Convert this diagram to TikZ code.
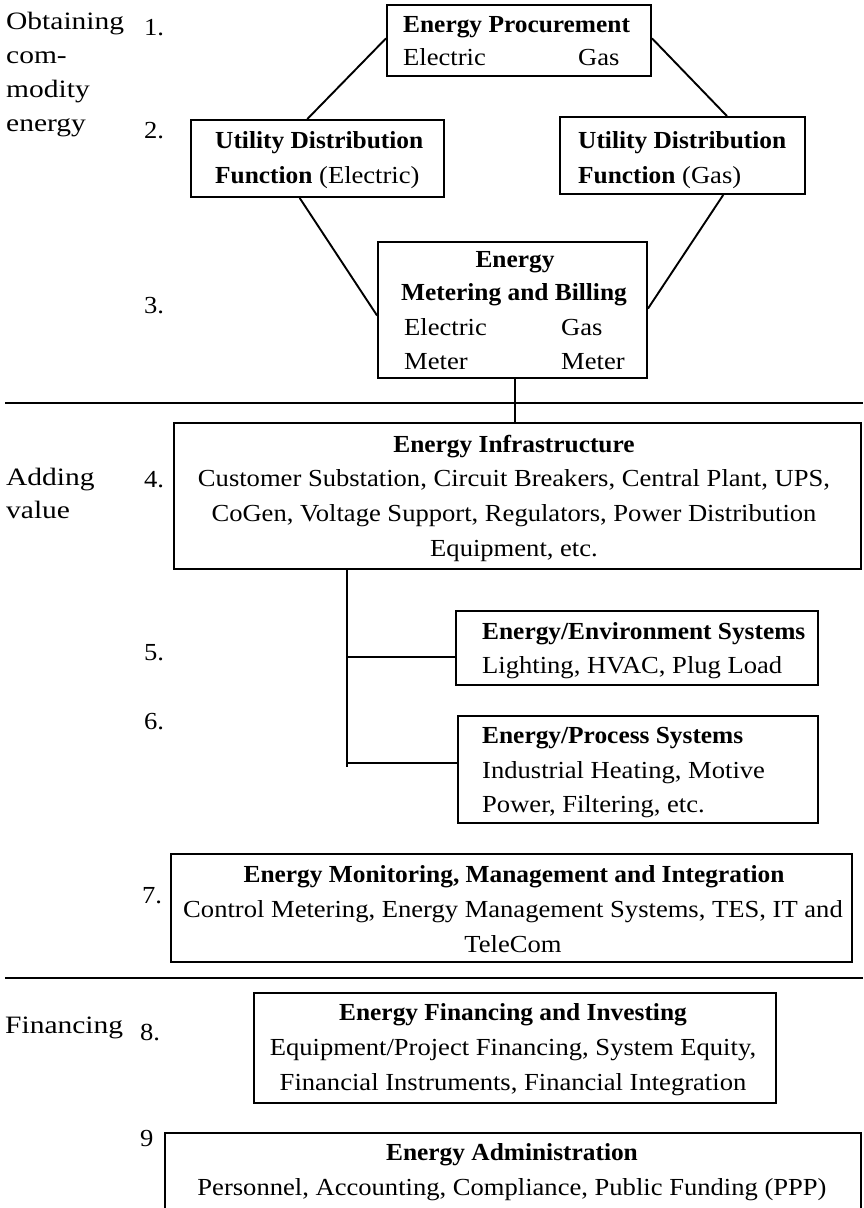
\documentclass[tikz,border=0pt]{standalone}
\usepackage{fontspec}
\setmainfont{Liberation Serif}
\usepackage{graphicx}
\usetikzlibrary{calc}
\newcommand{\sx}[1]{\scalebox{1.085}[1]{#1}}
\newcommand{\bx}[1]{\scalebox{1.036}[1]{\bfseries #1}}
\newcommand{\lx}[1]{\scalebox{1.18}[1]{#1}}
\tikzset{
  boxnode/.style={draw, line width=1.9pt, inner sep=0pt},
  txt/.style={inner sep=0pt, font=\fontsize{24.5}{28}\selectfont},
  ltxt/.style={inner sep=0pt, font=\fontsize{25}{28}\selectfont},
  lw/.style={anchor=base west},
  lc/.style={anchor=base},
  conn/.style={line width=1.9pt},
  sepline/.style={line width=2.3pt}
}
\begin{document}
\begin{tikzpicture}[x=1pt,y=-1pt]
\useasboundingbox (0,0) rectangle (863,1208);
\clip (0,0) rectangle (863,1208);
\fill[white] (0,0) rectangle (863,1208);

% boxes
\node[boxnode, minimum width=264pt, minimum height=71pt] (b1) at (519,40.5) {};
\node[boxnode, minimum width=253pt, minimum height=77pt] (b2L) at (317.5,158.5) {};
\node[boxnode, minimum width=245pt, minimum height=77pt] (b2R) at (682.5,155.5) {};
\node[boxnode, minimum width=269pt, minimum height=136pt] (b3) at (512.5,310) {};
\node[boxnode, minimum width=687pt, minimum height=146pt] (b4) at (517.5,496) {};
\node[boxnode, minimum width=362pt, minimum height=74pt] (b5) at (637,648) {};
\node[boxnode, minimum width=360pt, minimum height=107pt] (b6) at (638,769.5) {};
\node[boxnode, minimum width=681pt, minimum height=108pt] (b7) at (511.5,908) {};
\node[boxnode, minimum width=522pt, minimum height=110pt] (b8) at (515,1048) {};
\node[boxnode, minimum width=696pt, minimum height=110pt] (b9) at (513,1188) {};

% separators
\coordinate (s1a) at (5,403);
\coordinate (s1b) at (863,403);
\coordinate (s2a) at (5,978);
\coordinate (s2b) at (863,978);
\draw[sepline] (s1a) -- (s1b);
\draw[sepline] (s2a) -- (s2b);

% connectors top diamond
\draw[conn] ($(b1.north west)!0.47!(b1.south west)$) -- ($(b2L.north west)!0.46!(b2L.north east)$);
\draw[conn] ($(b1.north east)!0.47!(b1.south east)$) -- ($(b2R.north west)!0.68!(b2R.north east)$);
\draw[conn] ($(b2L.south west)!0.43!(b2L.south east)$) -- ($(b3.north west)!0.54!(b3.south west)$);
\draw[conn] ($(b2R.south west)!0.665!(b2R.south east)$) -- ($(b3.north east)!0.49!(b3.south east)$);
\coordinate (c3) at ($(b3.south west)!0.51!(b3.south east)$);
\draw[conn] (c3) -- (c3 |- b4.north);

% trunk
\coordinate (tr0) at ($(b4.south west)!0.253!(b4.south east)$);
\coordinate (b5p) at ($(b5.north west)!0.62!(b5.south west)$);
\coordinate (b6p) at ($(b6.north west)!0.44!(b6.south west)$);
\coordinate (tr1) at ($(tr0 |- b6p)+(0,4)$);
\draw[conn] (tr0) -- (tr1);
\draw[conn] (tr0 |- b5p) -- (b5p);
\draw[conn] (tr0 |- b6p) -- (b6p);

% left labels
\node[ltxt, lw] (lobt) at (6,29) {\lx{Obtaining}};
\node[ltxt, lw] (lcom) at (6,63) {\lx{com-}};
\node[ltxt, lw] (lmod) at (6,97) {\lx{modity}};
\node[ltxt, lw] (lene) at (6,131) {\lx{energy}};
\node[ltxt, lw] (ladd) at (6,485) {\lx{Adding}};
\node[ltxt, lw] (lval) at (6,518) {\lx{value}};
\node[ltxt, lw] (lfin) at (5,1033) {\lx{Financing}};

\node[txt, lw] (n1) at (144,35) {\sx{1.}};
\node[txt, lw] (n2) at (144,138) {\sx{2.}};
\node[txt, lw] (n3) at (144,313) {\sx{3.}};
\node[txt, lw] (n4) at (144,487) {\sx{4.}};
\node[txt, lw] (n5) at (144,660) {\sx{5.}};
\node[txt, lw] (n6) at (144,729) {\sx{6.}};
\node[txt, lw] (n7) at (142,903) {\sx{7.}};
\node[txt, lw] (n8) at (140,1040) {\sx{8.}};
\node[txt, lw] (n9) at (140,1146) {\sx{9}};

% box 1
\node[txt, lw] (t1a) at (403,32) {\bx{Energy Procurement}};
\node[txt, lw] (t1b) at (403,65) {\sx{Electric}};
\node[txt, lw] (t1c) at (578,65) {\sx{Gas}};
% box 2
\node[txt, lw] (t2a) at (215,148) {\bx{Utility Distribution}};
\node[txt, lw] (t2b) at (215,183) {\bx{Function}\sx{\ (Electric)}};
\node[txt, lw] (t2c) at (578,148) {\bx{Utility Distribution}};
\node[txt, lw] (t2d) at (578,183) {\bx{Function}\sx{\ (Gas)}};
% box 3
\node[txt, lc] (t3a) at (515,267) {\bx{Energy}};
\node[txt, lc] (t3b) at (514,300) {\bx{Metering and Billing}};
\node[txt, lw] (t3c) at (404,335) {\sx{Electric}};
\node[txt, lw] (t3d) at (561,335) {\sx{Gas}};
\node[txt, lw] (t3e) at (404,369) {\sx{Meter}};
\node[txt, lw] (t3f) at (561,369) {\sx{Meter}};
% box 4
\node[txt, lc] (t4a) at (514,452) {\bx{Energy Infrastructure}};
\node[txt, lc] (t4b) at (514,486) {\sx{Customer Substation, Circuit Breakers, Central Plant, UPS,}};
\node[txt, lc] (t4c) at (514,521) {\sx{CoGen, Voltage Support, Regulators, Power Distribution}};
\node[txt, lc] (t4d) at (514,556) {\sx{Equipment, etc.}};
% box 5
\node[txt, lw] (t5a) at (482,639) {\bx{Energy/Environment Systems}};
\node[txt, lw] (t5b) at (482,673) {\sx{Lighting, HVAC, Plug Load}};
% box 6
\node[txt, lw] (t6a) at (482,743) {\bx{Energy/Process Systems}};
\node[txt, lw] (t6b) at (482,778) {\sx{Industrial Heating, Motive}};
\node[txt, lw] (t6c) at (482,812) {\sx{Power, Filtering, etc.}};
% box 7
\node[txt, lc] (t7a) at (514,882) {\bx{Energy Monitoring, Management and Integration}};
\node[txt, lc] (t7b) at (513,917) {\sx{Control Metering, Energy Management Systems, TES, IT and}};
\node[txt, lc] (t7c) at (513,952) {\sx{TeleCom}};
% box 8
\node[txt, lc] (t8a) at (513,1020) {\bx{Energy Financing and Investing}};
\node[txt, lc] (t8b) at (513,1055) {\sx{Equipment/Project Financing, System Equity,}};
\node[txt, lc] (t8c) at (513,1090) {\sx{Financial Instruments, Financial Integration}};
% box 9
\node[txt, lc] (t9a) at (512,1160) {\bx{Energy Administration}};
\node[txt, lc] (t9b) at (512,1195) {\sx{Personnel, Accounting, Compliance, Public Funding (PPP)}};
\end{tikzpicture}
\end{document}
